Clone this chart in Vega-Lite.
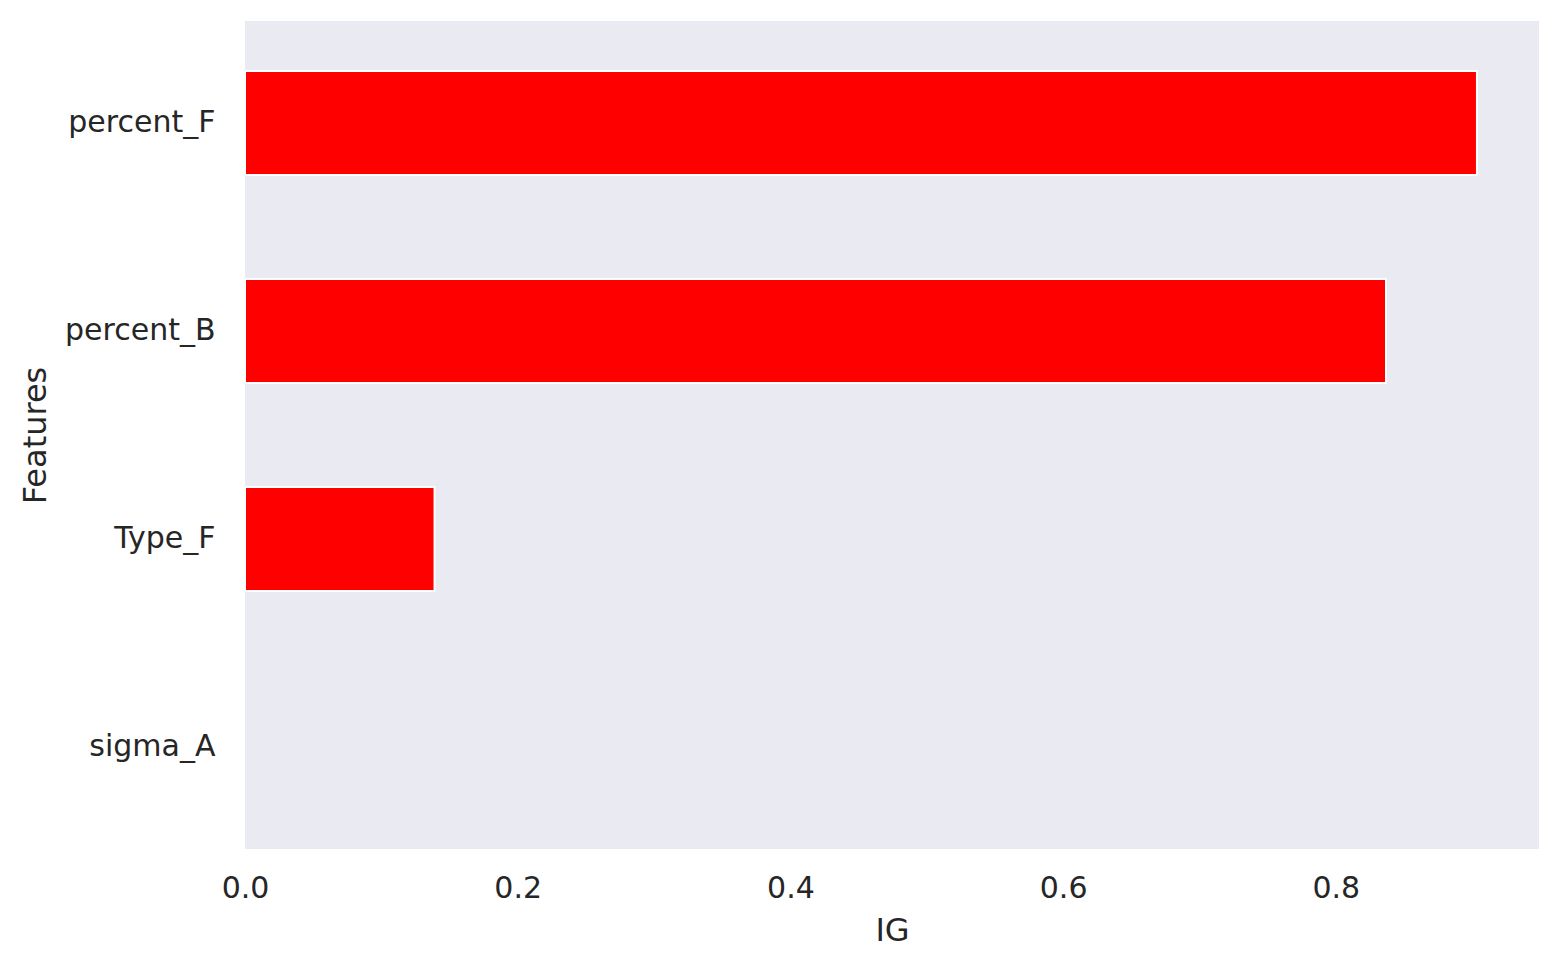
{
  "$schema": "https://vega.github.io/schema/vega-lite/v6.json",
  "autosize": "none",
  "padding": {"left": 245, "top": 21, "right": 23, "bottom": 117},
  "width": 1294,
  "height": 828,
  "background": "white",
  "config": {
    "view": {"fill": "#EAEAF2", "stroke": null},
    "font": "DejaVu Sans"
  },
  "data": {
    "values": [
      {"feature": "percent_F", "IG": 0.9035},
      {"feature": "percent_B", "IG": 0.8368},
      {"feature": "Type_F", "IG": 0.139},
      {"feature": "sigma_A", "IG": 0.0}
    ]
  },
  "mark": {"type": "bar", "color": "#FF0000", "strokeWidth": 2},
  "encoding": {
    "stroke": {
      "condition": {"test": "datum.IG > 0", "value": "white"},
      "value": null
    },
    "y": {
      "field": "feature",
      "type": "nominal",
      "sort": ["percent_F", "percent_B", "Type_F", "sigma_A"],
      "scale": {"paddingInner": 0.5, "paddingOuter": 0.24},
      "axis": {
        "title": "Features",
        "domain": false,
        "ticks": false,
        "grid": false,
        "labelFontSize": 30,
        "labelColor": "#262626",
        "labelPadding": 30,
        "titleFontSize": 32,
        "titleFontWeight": "normal",
        "titleColor": "#262626",
        "titlePadding": 12
      }
    },
    "x": {
      "field": "IG",
      "type": "quantitative",
      "scale": {"domain": [0, 0.949], "nice": false, "zero": true},
      "axis": {
        "title": "IG",
        "values": [0, 0.2, 0.4, 0.6, 0.8],
        "format": ".1f",
        "domain": false,
        "ticks": false,
        "grid": false,
        "labelFlush": false,
        "labelFontSize": 30,
        "labelColor": "#262626",
        "labelPadding": 24,
        "titleFontSize": 32,
        "titleFontWeight": "normal",
        "titleColor": "#262626",
        "titlePadding": 12
      }
    }
  }
}
